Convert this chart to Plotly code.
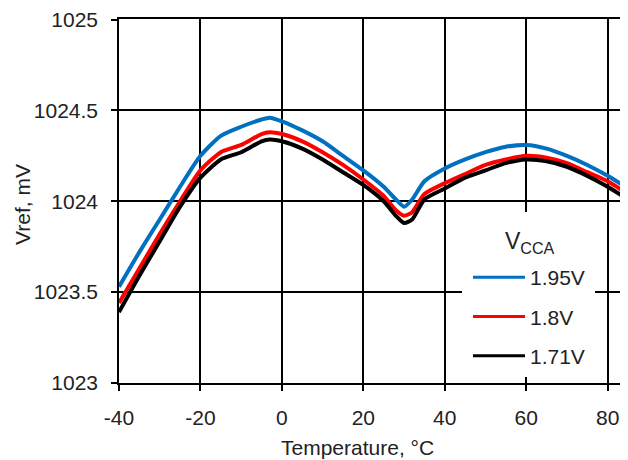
import plotly.graph_objects as go

# temperature points (°C)
temp = [-40, -35, -30, -25, -20, -15, -10, -5, -3, 0, 5, 10, 15, 20, 25, 28, 30, 32,
        35, 40, 45, 50, 55, 60, 65, 70, 75, 80, 85]

# Vref (mV) for each VCCA supply
vref_195 = [1023.53, 1023.72, 1023.90, 1024.08, 1024.25, 1024.36, 1024.41, 1024.45, 1024.46,
            1024.44, 1024.39, 1024.33, 1024.25, 1024.17, 1024.08, 1024.01, 1023.97, 1024.01,
            1024.11, 1024.18, 1024.23, 1024.27, 1024.30, 1024.31, 1024.29, 1024.25, 1024.20,
            1024.14, 1024.07]
vref_180 = [1023.44, 1023.63, 1023.82, 1024.00, 1024.17, 1024.27, 1024.31, 1024.37, 1024.38,
            1024.37, 1024.33, 1024.27, 1024.20, 1024.12, 1024.03, 1023.95, 1023.92, 1023.94,
            1024.04, 1024.10, 1024.15, 1024.20, 1024.23, 1024.25, 1024.24, 1024.21, 1024.16,
            1024.11, 1024.04]
vref_171 = [1023.39, 1023.59, 1023.78, 1023.97, 1024.13, 1024.23, 1024.27, 1024.33, 1024.34,
            1024.33, 1024.29, 1024.23, 1024.16, 1024.09, 1024.00, 1023.92, 1023.88, 1023.90,
            1024.01, 1024.07, 1024.13, 1024.17, 1024.21, 1024.23, 1024.22, 1024.19, 1024.14,
            1024.08, 1024.01]

names = ["1.95V", "1.8V", "1.71V"]
colors = ["#0070C0", "#FF0000", "#000000"]

x_ticks = [-40, -20, 0, 20, 40, 60, 80]
x_labels = ["-40", "-20", "0", "20", "40", "60", "80"]
y_ticks = [1023, 1023.5, 1024, 1024.5, 1025]
y_labels = ["1023", "1023.5", "1024", "1024.5", "1025"]

FONT = "Liberation Sans, Arial, sans-serif"

# page has an 8px body margin -> figure is shifted by 8px; plot area in page px:
# left 119, right 628, top 19, bottom 383
PX0, PW, PY1, PH = 119, 509, 383, 364


def px(x):
    return (x - PX0) / PW


def py(y):
    return (PY1 - y) / PH


fig = go.Figure()
for name, ys, col in zip(names, [vref_195, vref_180, vref_171], colors):
    # curve itself (thick), legend entry drawn by a thin dummy trace
    fig.add_trace(go.Scatter(
        x=temp, y=ys, name=name, mode="lines", showlegend=False,
        legendgroup=name,
        line=dict(color=col, width=4, shape="spline", smoothing=0.6),
    ))
    fig.add_trace(go.Scatter(
        x=[None], y=[None], name=name, mode="lines",
        legendgroup=name, line=dict(color=col, width=3),
    ))

# white panel behind the legend, hiding the grid there
fig.add_shape(type="rect", xref="paper", yref="paper",
              x0=px(462), x1=px(595), y0=py(377), y1=py(212),
              fillcolor="white", line=dict(width=0), layer="above")

fig.add_annotation(text="V<sub>CCA</sub>", xref="paper", yref="paper",
                   x=px(503), y=py(242), xanchor="left", yanchor="middle",
                   showarrow=False, font=dict(size=23, color="#222"))
fig.add_annotation(text="Temperature, °C", xref="paper", yref="paper",
                   x=px(357), y=py(447), xanchor="center", yanchor="middle",
                   showarrow=False, font=dict(size=21, color="#222"))
fig.add_annotation(text="Vref, mV", xref="paper", yref="paper",
                   x=px(22), y=py(205), xanchor="center", yanchor="middle",
                   textangle=-90, showarrow=False, font=dict(size=21, color="#222"))

fig.update_layout(
    width=620, height=452,
    margin=dict(l=111, r=0, t=11, b=77, autoexpand=False),
    paper_bgcolor="white", plot_bgcolor="white",
    font=dict(family=FONT, size=21, color="#222"),
    showlegend=True,
    legend=dict(
        x=px(468), y=py(262) + 0.0137, xanchor="left", yanchor="top",
        bgcolor="rgba(0,0,0,0)", borderwidth=0,
        traceorder="grouped", tracegroupgap=9,
        itemwidth=52,
        font=dict(size=21),
    ),
)

fig.update_xaxes(
    range=[-40, 85], tickvals=x_ticks, ticktext=x_labels,
    showgrid=True, gridcolor="black", gridwidth=1.5,
    showline=True, linecolor="black", linewidth=1.5, mirror=True,
    ticks="outside", ticklen=6, tickcolor="black", tickwidth=1.5,
    ticklabelstandoff=9, zeroline=False, automargin=False,
)
fig.update_yaxes(
    range=[1023, 1025.003], tickvals=y_ticks, ticktext=y_labels,
    showgrid=True, gridcolor="black", gridwidth=1.5,
    showline=True, linecolor="black", linewidth=1.5,
    ticks="outside", ticklen=6, tickcolor="black", tickwidth=1.5,
    ticklabelstandoff=9, zeroline=False, automargin=False,
    ticklabeloverflow="allow",
)

fig.write_html("out.html")
